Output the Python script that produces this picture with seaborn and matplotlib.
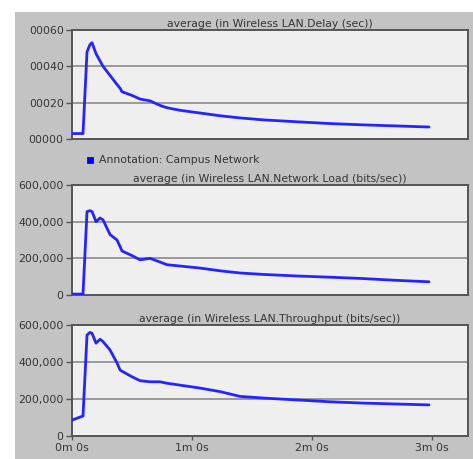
import matplotlib
matplotlib.use("Agg")
import matplotlib.pyplot as plt
from matplotlib.patches import Rectangle
import pandas as pd
import seaborn as sns

# Simulation time (seconds) at which each statistic was sampled
time_s = [0, 5.5, 7.5, 9, 10, 12, 14, 15.5, 19, 22.5, 24, 25, 30, 34, 39, 44,
          47.5, 54, 64, 74, 84, 96, 112, 129, 145, 162, 178.5]

# Wireless LAN delay (sec)
delay = [0.00003, 0.00003, 0.00048, 0.00052, 0.00053, 0.00047, 0.00043, 0.00040,
         0.00035, 0.00030, 0.00028, 0.00026, 0.00024, 0.00022, 0.00021, 0.000185,
         0.000172, 0.000158, 0.000143, 0.000128, 0.000116, 0.000105, 0.000095,
         0.000085, 0.000078, 0.000072, 0.000066]

# Wireless LAN network load (bits/sec)
load = [5000, 5000, 455000, 460000, 455000, 400000, 420000, 410000, 330000,
        300000, 265000, 240000, 215000, 192000, 200000, 180000, 165000, 158000,
        147000, 132000, 120000, 112000, 104000, 97000, 90000, 80000, 72000]

# Wireless LAN throughput (bits/sec)
throughput = [86000, 108000, 546000, 560000, 555000, 502000, 523000, 510000,
              465000, 395000, 357000, 350000, 320000, 299000, 293000, 293000,
              285000, 275000, 259000, 240000, 214000, 205000, 195000, 185000,
              178000, 173000, 168000]

titles = ["average (in Wireless LAN.Delay (sec))",
          "average (in Wireless LAN.Network Load (bits/sec))",
          "average (in Wireless LAN.Throughput (bits/sec))"]
legend_label = "Annotation: Campus Network"

delay_ticks = [0, 0.0002, 0.0004, 0.0006]
delay_ticklabels = ["00000", "00020", "00040", "00060"]
bits_ticks = [0, 200000, 400000, 600000]
bits_ticklabels = ["0", "200,000", "400,000", "600,000"]
time_ticks = [0, 60, 120, 180]
time_ticklabels = ["0m 0s", "1m 0s", "2m 0s", "3m 0s"]

sns.set_style("white")
plt.rcParams["font.family"] = ["DejaVu Sans"]

W, H = 473, 459
fig = plt.figure(figsize=(W / 100, H / 100), dpi=100)
fig.patch.set_facecolor("white")
# grey window background, kept behind the axes
fig.patches.append(Rectangle((15 / W, 0), 1 - 15 / W, (H - 12) / H,
                             transform=fig.transFigure, facecolor="#c3c3c3",
                             edgecolor="none", zorder=-10))

LINE = "#2424ff"
TXT = "#353535"
panels = [
    (30, 139, delay, delay_ticks, delay_ticklabels, [0, 0.0006]),
    (185, 295, load, bits_ticks, bits_ticklabels, [0, 600000]),
    (325, 436, throughput, bits_ticks, bits_ticklabels, [0, 600000]),
]

left_px, right_px = 72, 468
for i, (top, bot, vals, yt, ytl, ylim) in enumerate(panels):
    ax = fig.add_axes([left_px / W, (H - bot) / H, (right_px - left_px) / W,
                       (bot - top) / H])
    ax.set_facecolor("#efefef")
    df = pd.DataFrame({"t": time_s, "v": vals})
    sns.lineplot(data=df, x="t", y="v", ax=ax, color=LINE, linewidth=2.0,
                 zorder=3)
    ax.set_xlim(0, 198)
    ax.set_ylim(*ylim)
    ax.set_xlabel("")
    ax.set_ylabel("")
    ax.set_yticks(yt)
    ax.set_yticklabels(ytl, fontsize=7.8, color=TXT)
    for y in yt[1:-1]:
        ax.axhline(y, color="#828282", lw=1.1, zorder=1)
    for s in ax.spines.values():
        s.set_color("#555555")
        s.set_linewidth(1.4)
    ax.tick_params(axis="y", direction="out", length=4, width=1,
                   color="#555555", pad=2, left=True)
    if i == 2:
        ax.set_xticks(time_ticks)
        ax.set_xticklabels(time_ticklabels, fontsize=7.8, color=TXT)
        ax.tick_params(axis="x", direction="out", length=3, width=1,
                       color="#555555", pad=2, bottom=True)
    else:
        ax.set_xticks([])
    ax.set_title(titles[i], fontsize=7.8, color=TXT, pad=2.5)

# series legend between first and second panel
fig.patches.append(Rectangle((87 / W, (H - 163) / H), 6 / W, 6 / H,
                             transform=fig.transFigure, facecolor="#0000ee",
                             edgecolor="#202020", lw=0.6, zorder=5))
fig.text(99 / W, (H - 160) / H, legend_label, fontsize=7.8, color=TXT,
         va="center", ha="left")

fig.savefig("out.png", dpi=100)
